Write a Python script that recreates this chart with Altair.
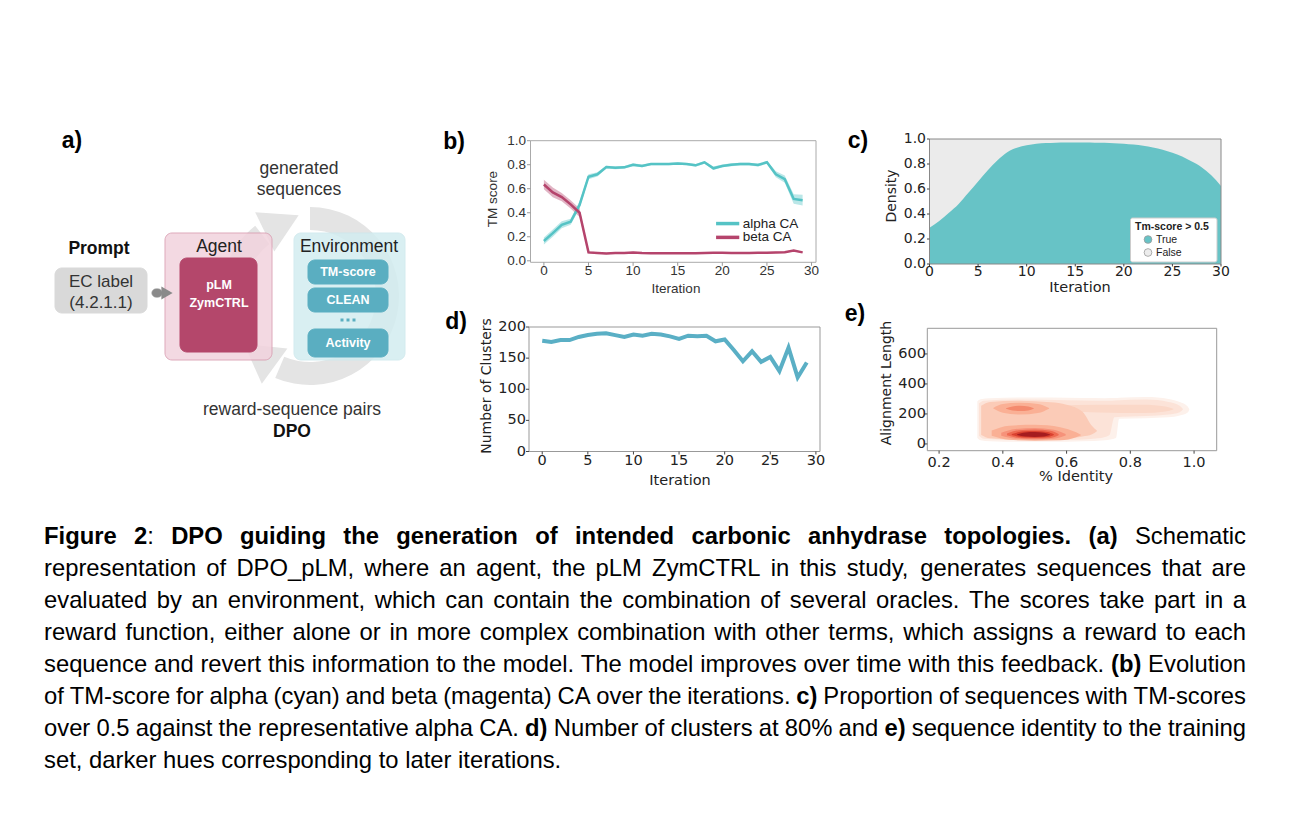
import math
import altair as alt
import pandas as pd

W, H = 1276, 804
M = 8  # page margin: reference-image pixel -> chart pixel


def P(v):
    return v - M


# ===================== values =====================
# (b) TM score per iteration
iterations = list(range(30))
alpha_tm = [0.165, 0.23, 0.30, 0.325, 0.465, 0.70, 0.72, 0.78, 0.775, 0.778,
            0.80, 0.79, 0.805, 0.805, 0.805, 0.81, 0.805, 0.795, 0.82, 0.77,
            0.79, 0.80, 0.805, 0.805, 0.798, 0.82, 0.72, 0.68, 0.515, 0.505]
alpha_ci = [0.03, 0.03, 0.03, 0.025, 0.03, 0.02, 0.018, 0.012, 0.012, 0.012,
            0.012, 0.012, 0.01, 0.01, 0.01, 0.01, 0.01, 0.012, 0.012, 0.015,
            0.012, 0.012, 0.012, 0.012, 0.012, 0.012, 0.025, 0.03, 0.04, 0.045]
beta_tm = [0.635, 0.57, 0.53, 0.47, 0.40, 0.07, 0.065, 0.06, 0.065, 0.064,
           0.07, 0.065, 0.063, 0.063, 0.063, 0.063, 0.063, 0.063, 0.065, 0.068,
           0.068, 0.065, 0.065, 0.065, 0.066, 0.068, 0.07, 0.072, 0.085, 0.07]
beta_ci = [0.04, 0.04, 0.035, 0.035, 0.035, 0.01, 0.006, 0.006, 0.006, 0.006,
           0.006, 0.006, 0.006, 0.006, 0.006, 0.006, 0.006, 0.006, 0.006, 0.006,
           0.006, 0.006, 0.006, 0.006, 0.006, 0.006, 0.006, 0.006, 0.008, 0.006]

# (c) share of sequences with TM-score > 0.5
c_iter = list(range(31))
c_true = [0.29, 0.345, 0.41, 0.48, 0.57, 0.66, 0.75, 0.83, 0.895, 0.93,
          0.95, 0.962, 0.968, 0.971, 0.972, 0.973, 0.972, 0.971, 0.970, 0.967,
          0.963, 0.956, 0.947, 0.932, 0.915, 0.89, 0.86, 0.82, 0.775, 0.71, 0.625]

# (d) number of clusters
d_clusters = [178, 176, 179, 179, 184, 187, 189, 190, 187, 184,
              188, 186, 189, 188, 185, 181, 186, 185, 186, 177,
              180, 163, 145, 161, 144, 152, 129, 167, 119, 143]

# (e) density contour regions: (identity, lower length, upper length)
kde_r1 = [(0.320, 40, 285), (0.330, 25, 298), (0.36, 18, 305), (0.45, 14, 310), (0.55, 14, 310),
          (0.65, 18, 306), (0.72, 25, 305), (0.755, 40, 306), (0.765, 168, 308), (0.85, 172, 313),
          (0.92, 178, 300), (0.955, 190, 280), (0.98, 210, 250), (0.985, 228, 232)]
kde_r2 = [(0.325, 55, 270), (0.34, 35, 288), (0.45, 26, 296), (0.60, 27, 292), (0.70, 38, 288),
          (0.735, 60, 288), (0.75, 178, 290), (0.85, 186, 296), (0.92, 196, 280), (0.955, 212, 255),
          (0.965, 229, 233)]
kde_r2b = [(0.56, 220, 255), (0.70, 210, 262), (0.84, 206, 262), (0.91, 216, 250), (0.935, 230, 234)]
kde_r3 = [(0.332, 60, 255), (0.36, 38, 280), (0.45, 30, 288), (0.55, 32, 278), (0.60, 38, 262),
          (0.65, 50, 215), (0.68, 65, 120), (0.695, 85, 90)]
kde_r4u = [(0.37, 236, 240), (0.40, 208, 266), (0.455, 196, 274), (0.51, 206, 266), (0.545, 235, 240)]
kde_r4l = [(0.365, 55, 90), (0.42, 28, 122), (0.50, 22, 128), (0.58, 25, 112), (0.63, 45, 78), (0.645, 58, 62)]
kde_r5u = [(0.41, 234, 238), (0.43, 223, 250), (0.455, 219, 255), (0.48, 223, 250), (0.497, 234, 238)]
kde_r5l = [(0.395, 55, 75), (0.44, 35, 100), (0.50, 30, 106), (0.56, 35, 95), (0.597, 57, 66)]
kde_r6 = [(0.413, 58, 70), (0.45, 40, 92), (0.50, 36, 96), (0.55, 40, 88), (0.575, 58, 66)]
kde_r7 = [(0.428, 59, 66), (0.46, 45, 83), (0.50, 42, 86), (0.54, 46, 80), (0.56, 59, 64)]
kde_r8 = [(0.445, 59, 64), (0.47, 49, 77), (0.50, 47, 79), (0.53, 50, 75), (0.548, 59, 63)]
kde_regions = [kde_r1, kde_r2, kde_r2b, kde_r3, kde_r4u, kde_r4l, kde_r5u, kde_r5l, kde_r6, kde_r7, kde_r8]
kde_colors = ['#fdf1eb', '#fce3d8', '#fbd8c8', '#fbcbb7', '#fab095', '#fab095', '#f48a6e', '#f6927a',
              '#ee6a52', '#d9412f', '#a51c1f']

# axis ticks
ticks_iter = [0, 5, 10, 15, 20, 25, 30]
ticks_unit = [0.0, 0.2, 0.4, 0.6, 0.8, 1.0]
ticks_clusters = [0, 50, 100, 150, 200]
ticks_identity = [0.2, 0.4, 0.6, 0.8, 1.0]
ticks_length = [0, 200, 400, 600]

# caption (bold parts between asterisks)
caption_lines = [
    "*Figure 2*: *DPO guiding the generation of intended carbonic anhydrase topologies. (a)* Schematic",
    "representation of DPO_pLM, where an agent, the pLM ZymCTRL in this study, generates sequences that are",
    "evaluated by an environment, which can contain the combination of several oracles. The scores take part in a",
    "reward function, either alone or in more complex combination with other terms, which assigns a reward to each",
    "sequence and revert this information to the model. The model improves over time with this feedback. *(b)* Evolution",
    "of TM-score for alpha (cyan) and beta (magenta) CA over the iterations. *c)* Proportion of sequences with TM-scores",
    "over 0.5 against the representative alpha CA. *d)* Number of clusters at 80% and *e)* sequence identity to the training",
    "set, darker hues corresponding to later iterations.",
]

# ===================== styles =====================
ALPHA = '#55c3c5'
BETA = '#b5446c'
TEAL_C = '#67c3c6'
GRAY_C = '#ebebeb'
LINE_D = '#5aafc5'
SANS = 'Liberation Sans'
DJV = 'DejaVu Sans'

layers = []
one = pd.DataFrame({'k': [0]})


def sc(dom, rng):
    return alt.Scale(domain=dom, range=rng, nice=False, zero=False)


def px_text(rows, bold, font, align='center', baseline='middle', angle=0):
    df = pd.DataFrame(rows, columns=['text', 'x', 'y', 'fs', 'col'])
    return alt.Chart(df).mark_text(font=font, fontWeight='bold' if bold else 'normal',
                                   align=align, baseline=baseline, angle=angle).encode(
        x=alt.X('x:Q', scale=None, axis=None), y=alt.Y('y:Q', scale=None, axis=None),
        text='text:N', size=alt.Size('fs:Q', scale=None, legend=None),
        color=alt.Color('col:N', scale=None, legend=None))


def frame_df(xd, yd):
    return pd.DataFrame({'x1': [xd[0]], 'x2': [xd[1]], 'y1': [yd[0]], 'y2': [yd[1]]})


def axis_layers(sx, sy, xvals, xfmt, yvals, yfmt, left, bottom, xlab_y, ylab_x,
                font, fs, lab_col, tick_col, tick_len=3.5):
    xdf = pd.DataFrame({'v': xvals, 'lab': [format(v, xfmt) for v in xvals]})
    ydf = pd.DataFrame({'v': yvals, 'lab': [format(v, yfmt) for v in yvals]})
    return [
        alt.Chart(xdf).mark_rule(color=tick_col, strokeWidth=1).encode(
            x=alt.X('v:Q', scale=sx, axis=None), y=alt.value(bottom), y2=alt.value(bottom + tick_len)),
        alt.Chart(xdf).mark_text(font=font, fontSize=fs, color=lab_col, align='center', baseline='middle').encode(
            x=alt.X('v:Q', scale=sx, axis=None), y=alt.value(xlab_y), text='lab:N'),
        alt.Chart(ydf).mark_rule(color=tick_col, strokeWidth=1).encode(
            y=alt.Y('v:Q', scale=sy, axis=None), x=alt.value(left - tick_len), x2=alt.value(left)),
        alt.Chart(ydf).mark_text(font=font, fontSize=fs, color=lab_col, align='right', baseline='middle').encode(
            y=alt.Y('v:Q', scale=sy, axis=None), x=alt.value(ylab_x), text='lab:N'),
    ]


# ===================== (a) schematic =====================
RC = (310, 296)
R_IN, R_OUT = 66, 89
for t1, t2 in [(248, 322), (0, 203)]:
    layers.append(alt.Chart(one).mark_arc(color='#e4e4e4').encode(
        x=alt.value(P(RC[0])), y=alt.value(P(RC[1])),
        theta=alt.value(math.radians(t1)), theta2=alt.value(math.radians(t2)),
        radius=alt.value(R_OUT), radius2=alt.value(R_IN)))
for th in (334, 216):
    r = (R_IN + R_OUT) / 2
    axp = RC[0] + r * math.sin(math.radians(th))
    ayp = RC[1] - r * math.cos(math.radians(th))
    layers.append(alt.Chart(one).mark_point(shape='triangle', size=1900, angle=(th + 90) % 360,
                                            filled=True, color='#e4e4e4', opacity=1).encode(
        x=alt.value(P(axp)), y=alt.value(P(ayp))))

box_rows = [
    # x, x2, y, y2, fill, stroke, opacity
    (55, 147, 268, 313, '#d9d9d9', '#d9d9d9', 1.0),
    (165, 272, 233, 360, '#f2d3dd', '#d99bb0', 0.85),
    (294, 405, 233, 360, '#d3edf0', '#cde9ed', 0.85),
    (180, 257, 258, 352, '#b4476b', '#b4476b', 1.0),
    (308, 388, 260, 284, '#5aaec1', '#5aaec1', 1.0),
    (308, 388, 288, 312, '#5aaec1', '#5aaec1', 1.0),
    (308, 388, 329, 357, '#5aaec1', '#5aaec1', 1.0),
    (152, 162, 289, 297, '#8a8a8a', '#8a8a8a', 1.0),
]
boxes = pd.DataFrame([(P(a), P(b), P(c), P(d), f, s, o) for a, b, c, d, f, s, o in box_rows],
                     columns=['x', 'x2', 'y', 'y2', 'fill', 'stroke', 'op'])
layers.append(alt.Chart(boxes).mark_rect(cornerRadius=7, strokeWidth=1).encode(
    x=alt.X('x:Q', scale=None, axis=None), x2='x2:Q',
    y=alt.Y('y:Q', scale=None, axis=None), y2='y2:Q',
    fill=alt.Fill('fill:N', scale=None, legend=None),
    stroke=alt.Stroke('stroke:N', scale=None, legend=None),
    opacity=alt.Opacity('op:Q', scale=None, legend=None)))
layers.append(alt.Chart(one).mark_point(shape='triangle-right', size=170, filled=True,
                                        color='#8a8a8a', opacity=1).encode(
    x=alt.value(P(167)), y=alt.value(P(293))))
dots = pd.DataFrame({'x': [P(342), P(348), P(354)], 'y': [P(320)] * 3})
layers.append(alt.Chart(dots).mark_square(size=9, color='#5aaec1', opacity=1).encode(
    x=alt.X('x:Q', scale=None, axis=None), y=alt.Y('y:Q', scale=None, axis=None)))

reg_txt = [
    ('generated', P(299), P(169), 17.5, '#333333'),
    ('sequences', P(299), P(190), 17.5, '#333333'),
    ('EC label', P(101), P(282), 17, '#333333'),
    ('(4.2.1.1)', P(101), P(303), 17, '#333333'),
    ('Agent', P(219), P(247), 17.5, '#222222'),
    ('Environment', P(349), P(247), 17.5, '#222222'),
    ('reward-sequence pairs', P(292), P(410), 17.5, '#333333'),
]
bold_txt = [
    ('Prompt', P(99), P(249), 17.5, '#111111'),
    ('pLM', P(219), P(285), 12.5, '#ffffff'),
    ('ZymCTRL', P(219), P(303), 12.5, '#ffffff'),
    ('TM-score', P(348), P(272), 12.5, '#ffffff'),
    ('CLEAN', P(348), P(300), 12.5, '#ffffff'),
    ('Activity', P(348), P(343), 12.5, '#ffffff'),
    ('DPO', P(292), P(432), 17.5, '#111111'),
    ('a)', P(72), P(141), 23, '#000000'),
    ('b)', P(454), P(142), 23, '#000000'),
    ('c)', P(858), P(141), 23, '#000000'),
    ('d)', P(456), P(322), 23, '#000000'),
    ('e)', P(855), P(314), 23, '#000000'),
]
layers.append(px_text(reg_txt, False, SANS))
layers.append(px_text(bold_txt, True, SANS))

# axis titles (all panels)
titles_h = [
    ('Iteration', P(676), P(289), 13.5, '#333333', SANS),
    ('Iteration', P(1080), P(288), 14.5, '#222222', DJV),
    ('Iteration', P(680), P(481), 14.5, '#222222', DJV),
    ('% Identity', P(1076), P(477), 14.5, '#222222', DJV),
]
titles_v = [
    ('TM score', P(493), P(199), 13.5, '#333333', SANS),
    ('Density', P(892), P(196), 14, '#222222', DJV),
    ('Number of Clusters', P(487), P(386), 14, '#222222', DJV),
    ('Alignment Length', P(887), P(383), 14, '#222222', DJV),
]
for t in titles_h:
    layers.append(px_text([t[:5]], False, t[5]))
for t in titles_v:
    layers.append(px_text([t[:5]], False, t[5], angle=270))

# ===================== (b) TM score =====================
bxd, byd = [-1.5, 30.5], [-0.0125, 1.0]
sx_b = sc(bxd, [P(530.5), P(816)])
sy_b = sc(byd, [P(262.3), P(140.7)])
dfb = pd.DataFrame({
    'it': iterations, 'a': alpha_tm, 'b': beta_tm,
    'a_lo': [m - e for m, e in zip(alpha_tm, alpha_ci)], 'a_hi': [m + e for m, e in zip(alpha_tm, alpha_ci)],
    'b_lo': [m - e for m, e in zip(beta_tm, beta_ci)], 'b_hi': [m + e for m, e in zip(beta_tm, beta_ci)],
})
bb = alt.Chart(dfb)
legend_b = pd.DataFrame({'x1': [19.3, 19.3], 'x2': [21.9, 21.9], 'tx': [22.3, 22.3], 'y': [0.31, 0.195],
                         'label': ['alpha CA', 'beta CA'], 'col': [ALPHA, BETA]})
panel_b = alt.layer(
    alt.Chart(frame_df(bxd, byd)).mark_rect(fill='white', stroke='#aaaaaa', strokeWidth=1).encode(
        x=alt.X('x1:Q', scale=sx_b, axis=None), x2='x2:Q',
        y=alt.Y('y1:Q', scale=sy_b, axis=None), y2='y2:Q'),
    bb.mark_area(color=ALPHA, opacity=0.4).encode(
        x=alt.X('it:Q', scale=sx_b, axis=None), y=alt.Y('a_lo:Q', scale=sy_b, axis=None), y2='a_hi:Q'),
    bb.mark_area(color=BETA, opacity=0.4).encode(
        x=alt.X('it:Q', scale=sx_b, axis=None), y=alt.Y('b_lo:Q', scale=sy_b, axis=None), y2='b_hi:Q'),
    bb.mark_line(color=ALPHA, strokeWidth=2.5).encode(
        x=alt.X('it:Q', scale=sx_b, axis=None), y=alt.Y('a:Q', scale=sy_b, axis=None)),
    bb.mark_line(color=BETA, strokeWidth=2.5).encode(
        x=alt.X('it:Q', scale=sx_b, axis=None), y=alt.Y('b:Q', scale=sy_b, axis=None)),
    alt.Chart(legend_b).mark_rule(strokeWidth=3.5).encode(
        x=alt.X('x1:Q', scale=sx_b, axis=None), x2='x2:Q', y=alt.Y('y:Q', scale=sy_b, axis=None),
        color=alt.Color('col:N', scale=None, legend=None)),
    alt.Chart(legend_b).mark_text(align='left', baseline='middle', font=SANS, fontSize=13.5, color='#222222').encode(
        x=alt.X('tx:Q', scale=sx_b, axis=None), y=alt.Y('y:Q', scale=sy_b, axis=None), text='label:N'),
    *axis_layers(sx_b, sy_b, ticks_iter, 'd', ticks_unit, '.1f', P(530.5), P(262.3), P(270.5), P(526),
                 SANS, 13.5, '#333333', '#999999'),
)
layers.append(panel_b)

# ===================== (c) density =====================
cxd, cyd = [0, 30], [0, 1]
sx_c = sc(cxd, [P(929.5), P(1221)])
sy_c = sc(cyd, [P(264), P(139)])
dfc = pd.DataFrame({'it': c_iter, 'p': c_true, 'zero': [0] * len(c_iter)})
panel_c = alt.layer(
    alt.Chart(frame_df(cxd, cyd)).mark_rect(fill=GRAY_C, strokeWidth=0).encode(
        x=alt.X('x1:Q', scale=sx_c, axis=None), x2='x2:Q',
        y=alt.Y('y1:Q', scale=sy_c, axis=None), y2='y2:Q'),
    alt.Chart(dfc).mark_area(color=TEAL_C, interpolate='monotone', opacity=1).encode(
        x=alt.X('it:Q', scale=sx_c, axis=None), y=alt.Y('p:Q', scale=sy_c, axis=None), y2='zero:Q'),
    alt.Chart(frame_df(cxd, cyd)).mark_rect(fillOpacity=0, stroke='#888888', strokeWidth=1).encode(
        x=alt.X('x1:Q', scale=sx_c, axis=None), x2='x2:Q',
        y=alt.Y('y1:Q', scale=sy_c, axis=None), y2='y2:Q'),
    *axis_layers(sx_c, sy_c, ticks_iter, 'd', ticks_unit, '.1f', P(929.5), P(264), P(271.5), P(926),
                 DJV, 14, '#222222', '#444444', tick_len=2.5),
)
layers.append(panel_c)
# legend of (c)
leg_box = pd.DataFrame({'x': [P(1130.5)], 'x2': [P(1217)], 'y': [P(218)], 'y2': [P(262)]})
layers.append(alt.Chart(leg_box).mark_rect(fill='white', stroke='#cccccc', strokeWidth=1, cornerRadius=2).encode(
    x=alt.X('x:Q', scale=None, axis=None), x2='x2:Q', y=alt.Y('y:Q', scale=None, axis=None), y2='y2:Q'))
leg_pts = pd.DataFrame({'x': [P(1148), P(1148)], 'y': [P(239.5), P(252.5)], 'fill': [TEAL_C, '#ececec']})
layers.append(alt.Chart(leg_pts).mark_circle(size=60, stroke='#9a9a9a', strokeWidth=0.8, opacity=1).encode(
    x=alt.X('x:Q', scale=None, axis=None), y=alt.Y('y:Q', scale=None, axis=None),
    fill=alt.Fill('fill:N', scale=None, legend=None)))
layers.append(px_text([('Tm-score > 0.5', P(1135), P(227), 10.5, '#222222')], True, SANS, align='left'))
layers.append(px_text([('True', P(1156), P(240), 10.5, '#222222'),
                       ('False', P(1156), P(253), 10.5, '#222222')], False, SANS, align='left'))

# ===================== (d) clusters =====================
dxd, dyd = [-1.45, 30.45], [0, 200]
sx_d = sc(dxd, [P(529), P(820)])
sy_d = sc(dyd, [P(451.5), P(327)])
dfd = pd.DataFrame({'it': iterations, 'n': d_clusters})
panel_d = alt.layer(
    alt.Chart(frame_df(dxd, dyd)).mark_rect(fill='white', stroke='#999999', strokeWidth=1).encode(
        x=alt.X('x1:Q', scale=sx_d, axis=None), x2='x2:Q',
        y=alt.Y('y1:Q', scale=sy_d, axis=None), y2='y2:Q'),
    alt.Chart(dfd).mark_line(color=LINE_D, strokeWidth=4, strokeJoin='miter').encode(
        x=alt.X('it:Q', scale=sx_d, axis=None), y=alt.Y('n:Q', scale=sy_d, axis=None)),
    *axis_layers(sx_d, sy_d, ticks_iter, 'd', ticks_clusters, 'd', P(529), P(451.5), P(461), P(526),
                 DJV, 14.5, '#222222', '#444444', tick_len=3),
)
layers.append(panel_d)

# ===================== (e) identity density =====================
exd, eyd = [0.163, 1.071], [-45, 771]
sx_e = sc(exd, [P(927.3), P(1216.7)])
sy_e = sc(eyd, [P(450.7), P(328.3)])
e_layers = [alt.Chart(frame_df(exd, eyd)).mark_rect(fill='white', stroke='#999999', strokeWidth=1).encode(
    x=alt.X('x1:Q', scale=sx_e, axis=None), x2='x2:Q',
    y=alt.Y('y1:Q', scale=sy_e, axis=None), y2='y2:Q')]
for reg, col in zip(kde_regions, kde_colors):
    dfr = pd.DataFrame(reg, columns=['x', 'lo', 'hi'])
    e_layers.append(alt.Chart(dfr).mark_area(color=col, interpolate='monotone', opacity=1).encode(
        x=alt.X('x:Q', scale=sx_e, axis=None), y=alt.Y('lo:Q', scale=sy_e, axis=None), y2='hi:Q'))
e_layers += axis_layers(sx_e, sy_e, ticks_identity, '.1f', ticks_length, 'd', P(927.3), P(450.7), P(463), P(926),
                        DJV, 14.5, '#222222', '#444444', tick_len=3)
layers.append(alt.layer(*e_layers))

# ===================== caption =====================
REG_W = dict(zip(" !\"#$%&'()*+,-./", [278, 278, 355, 556, 556, 889, 667, 191, 333, 333, 389, 584, 278, 333, 278, 278]))
REG_W.update({d: 556 for d in "0123456789"})
REG_W.update(dict(zip(":;<=>?@", [278, 278, 584, 584, 584, 556, 1015])))
REG_W.update(dict(zip("ABCDEFGHIJKLMNOPQRSTUVWXYZ",
                      [667, 667, 722, 722, 667, 611, 778, 722, 278, 500, 667, 556, 833, 722, 778, 667, 778, 722, 667,
                       611, 722, 667, 944, 667, 667, 611])))
REG_W.update(dict(zip("[\\]^_`", [278, 278, 278, 469, 556, 333])))
REG_W.update(dict(zip("abcdefghijklmnopqrstuvwxyz",
                      [556, 556, 500, 556, 556, 278, 556, 556, 222, 222, 500, 222, 833, 556, 556, 556, 556, 333, 500,
                       278, 556, 500, 722, 500, 500, 500])))
BOLD_W = dict(REG_W)
BOLD_W.update({'!': 333, ':': 333, ';': 333, '?': 611})
BOLD_W.update(dict(zip("ABCDEFGHIJKLMNOPQRSTUVWXYZ",
                       [722, 722, 722, 722, 667, 611, 778, 722, 278, 556, 722, 611, 833, 722, 778, 667, 778, 722, 667,
                        611, 722, 667, 944, 667, 667, 611])))
BOLD_W.update(dict(zip("abcdefghijklmnopqrstuvwxyz",
                       [556, 611, 556, 611, 556, 333, 611, 611, 278, 278, 556, 278, 889, 611, 611, 611, 611, 389, 556,
                        333, 611, 556, 778, 556, 556, 500])))


def text_w(s, bold, fs):
    tab = BOLD_W if bold else REG_W
    return sum(tab.get(ch, 556) for ch in s) * fs / 1000.0


def parse_line(s):
    words, cur, buf, bold = [], [], '', False
    for ch in s:
        if ch == '*':
            if buf:
                cur.append((buf, bold))
                buf = ''
            bold = not bold
        elif ch == ' ':
            if buf:
                cur.append((buf, bold))
                buf = ''
            if cur:
                words.append(cur)
                cur = []
        else:
            buf += ch
    if buf:
        cur.append((buf, bold))
    if cur:
        words.append(cur)
    return words


CAP_FS = 23.8
CAP_X0, CAP_X1 = P(44), P(1246)
CAP_Y0, CAP_DY = P(544), 32
cap_reg, cap_bold = [], []
for i, line in enumerate(caption_lines):
    words = parse_line(line)
    fs = CAP_FS
    ww = [sum(text_w(t, b, fs) for t, b in w) for w in words]
    if i == len(caption_lines) - 1:
        gap = REG_W[' '] * fs / 1000.0
    else:
        gap = (CAP_X1 - CAP_X0 - sum(ww)) / (len(words) - 1)
        if gap < 0.22 * fs:
            fs = (CAP_X1 - CAP_X0) / (sum(ww) / fs + 0.22 * (len(words) - 1))
            ww = [sum(text_w(t, b, fs) for t, b in w) for w in words]
            gap = 0.22 * fs
    x = CAP_X0
    y = CAP_Y0 + CAP_DY * i
    for w, wd in zip(words, ww):
        xx = x
        for t, b in w:
            (cap_bold if b else cap_reg).append((t, xx, y, fs, '#000000'))
            xx += text_w(t, b, fs)
        x += wd + gap
layers.append(px_text(cap_reg, False, SANS, align='left', baseline='alphabetic'))
layers.append(px_text(cap_bold, True, SANS, align='left', baseline='alphabetic'))

# ===================== assemble =====================
chart = alt.layer(*layers).resolve_scale(x='independent', y='independent').properties(
    width=W, height=H, autosize=alt.AutoSizeParams(type='none'), padding=0, background='white'
).configure_view(stroke=None)

chart.save("out.html", embed_options={"renderer": "svg", "actions": False})
